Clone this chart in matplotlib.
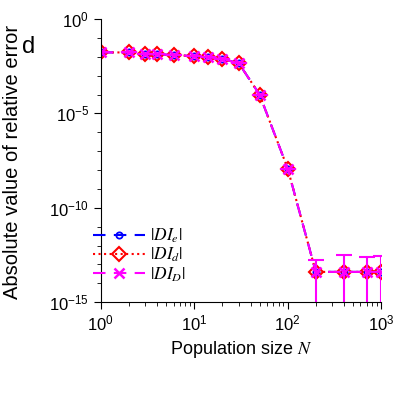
import numpy as np
import matplotlib
matplotlib.use('Agg')
import matplotlib.pyplot as plt
from matplotlib.ticker import LogLocator, NullFormatter

plt.rcParams['font.family'] = ['Liberation Sans', 'DejaVu Sans']
plt.rcParams['mathtext.fontset'] = 'stix'

# population sizes
N = [1, 2, 3, 4, 6, 10, 14, 20, 30, 50, 100, 200, 400, 700, 1000]

# absolute relative error of the three estimates (they overlap)
err_e = [1.7e-2, 1.7e-2, 1.4e-2, 1.35e-2, 1.25e-2, 1.07e-2, 9.5e-3, 7.8e-3,
         4.5e-3, 1.0e-4, 1.2e-8, 4e-14, 4e-14, 4e-14, 4e-14]
err_d = [1.7e-2, 1.7e-2, 1.4e-2, 1.35e-2, 1.25e-2, 1.07e-2, 9.5e-3, 7.8e-3,
         4.5e-3, 1.0e-4, 1.2e-8, 4e-14, 4e-14, 4e-14, 4e-14]
err_D = [1.7e-2, 1.7e-2, 1.4e-2, 1.35e-2, 1.25e-2, 1.07e-2, 9.5e-3, 7.8e-3,
         4.5e-3, 1.0e-4, 1.2e-8, 4e-14, 4e-14, 4e-14, 4e-14]

# error bars (upper part); lower part falls below the axis for the last points
sd_up = [0, 0, 0, 0, 0, 0, 0, 0, 0, 0, 0, 1.3e-13, 2.8e-13, 2.1e-13, 2.4e-13]
sd_low = [0, 0, 0, 0, 0, 0, 0, 0, 0, 0, 0, 3.99e-14, 3.99e-14, 3.99e-14, 3.99e-14]

fig = plt.figure(figsize=(4.05, 4.05), dpi=100)
ax = fig.add_axes([0.249, 0.254, 0.692, 0.699])

ax.plot(N, err_e, color='blue', ls=(0, (6, 4)), lw=1.5, marker='o',
        ms=4.5, mfc='none', mec='blue', mew=1.3, label=r'$|DI_e|$')
ax.plot(N, err_d, color='red', ls=':', lw=1.5, marker='D',
        ms=7.5, mfc='none', mec='red', mew=1.5, label=r'$|DI_d|$')
ax.errorbar(N, err_D, yerr=[sd_low, sd_up], color='magenta', ls='none',
            capsize=6, capthick=1.5, elinewidth=1.5)
ax.plot(N, err_D, color='magenta', ls=(0, (6, 4)), lw=1.5, marker='x',
        ms=7, mew=1.8, label=r'$|DI_D|$')

ax.set_xscale('log')
ax.set_yscale('log')
ax.set_xlim(1, 1000)
ax.set_ylim(1e-15, 1)
ax.set_yticks([1, 1e-5, 1e-10, 1e-15])
ax.yaxis.set_minor_locator(LogLocator(base=10, numticks=30))
ax.yaxis.set_minor_formatter(NullFormatter())
ax.xaxis.set_minor_locator(LogLocator(base=10, subs=np.arange(2, 10), numticks=30))
ax.xaxis.set_minor_formatter(NullFormatter())

for s in ['top', 'right']:
    ax.spines[s].set_visible(False)
ax.tick_params(which='major', direction='out', length=5, labelsize=12)
ax.tick_params(which='minor', direction='out', length=3)

ax.set_xlabel(r'Population size $N$', fontsize=13)
ax.set_ylabel('Absolute value of relative error', fontsize=14.5)
ax.yaxis.set_label_coords(-0.28, 0.495)

fig.text(0.055, 0.868, 'd', fontsize=17)

h, l = ax.get_legend_handles_labels()
ax.legend(h, l, loc='lower left', bbox_to_anchor=(-0.085, 0.01), frameon=False,
          fontsize=12.5, handlelength=3.0, labelspacing=0.05, handletextpad=0.3)

fig.savefig('out.png', dpi=100)
